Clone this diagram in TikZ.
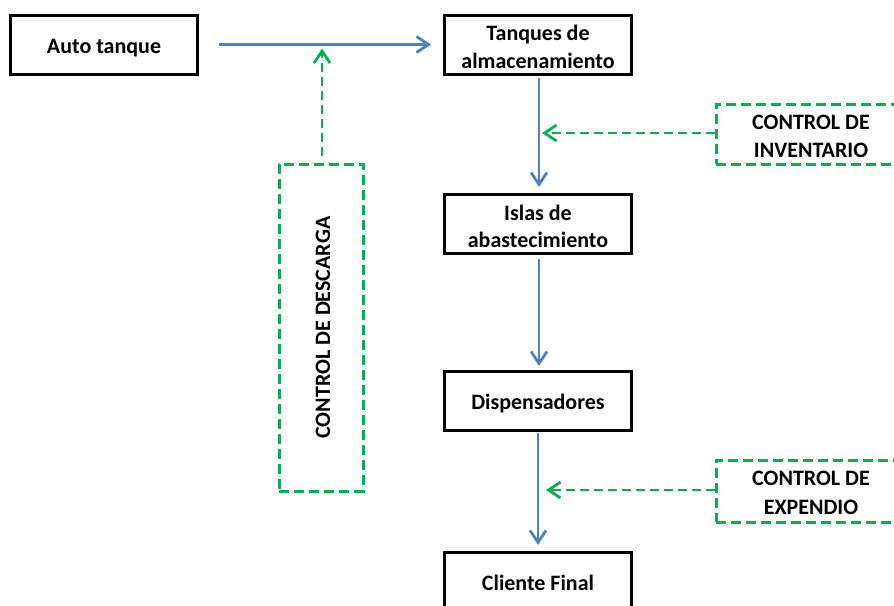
\documentclass[tikz,border=0pt]{standalone}
\usepackage{fontspec}
\setmainfont{Carlito}
\usetikzlibrary{arrows.meta,calc}
\definecolor{flowblue}{HTML}{4F81BD}
\definecolor{ctrlgreen}{HTML}{00B050}
\begin{document}
\begin{tikzpicture}[x=1pt,y=-1pt,
  lbl/.style={font=\fontsize{22}{27}\selectfont\bfseries, inner sep=0pt, anchor=base},
  stagebox/.style={draw=black, line width=3pt, minimum width=187pt, minimum height=59pt, inner sep=0pt},
  ctrlbox/.style={draw=ctrlgreen, line width=3pt, dash pattern=on 10pt off 5pt, inner sep=0pt},
  flow/.style={draw=flowblue, line width=2.8pt, -{Straight Barb[length=12pt,width=16pt,line width=2.8pt]}},
  ctrlflow/.style={draw=ctrlgreen, line width=2.8pt, dash pattern=on 9pt off 5pt,
    -{Straight Barb[length=12pt,width=16pt,line width=2.8pt]}}]
\useasboundingbox (0,0) rectangle (894,605);
\clip (0,0) rectangle (894,605);

% main process chain: boxes
\node[stagebox] (auto) at (104,44.5) {};
\node[stagebox] (tanq) at (538,44.5) {};
\node[stagebox] (islas) at (538,224) {};
\node[stagebox] (disp) at (538,401) {};
\node[stagebox] (cliente) at (538,582) {};

% main process chain: texts (placed on their baselines)
\node[lbl] (auto-t) at ($(auto.center)+(0,8.5)$) {Auto tanque};
\node[lbl] (tanq-t1) at ($(tanq.center)+(0,-4)$) {Tanques de};
\node[lbl] (tanq-t2) at ($(tanq.center)+(0,23.5)$) {almacenamiento};
\node[lbl] (islas-t1) at ($(islas.center)+(0,-4)$) {Islas de};
\node[lbl] (islas-t2) at ($(islas.center)+(0,23.5)$) {abastecimiento};
\node[lbl] (disp-t) at ($(disp.center)+(0,8)$) {Dispensadores};
\node[lbl] (cliente-t) at ($(cliente.center)+(0,8)$) {Cliente Final};

% control boxes
\node[ctrlbox, minimum width=84pt, minimum height=327pt] (desc) at (321,327.5) {};
\node[lbl, anchor=center, rotate=90] (desc-t) at (323,327.5) {CONTROL DE DESCARGA};
\node[ctrlbox, minimum width=190pt, minimum height=60pt] (inv) at (811,134) {};
\node[lbl] (inv-t1) at ($(inv.center)+(0,-4.7)$) {CONTROL DE};
\node[lbl] (inv-t2) at ($(inv.center)+(0,23.3)$) {INVENTARIO};
\node[ctrlbox, minimum width=190pt, minimum height=62pt] (exp) at (811,491) {};
\node[lbl] (exp-t1) at ($(exp.center)+(0,-5.3)$) {CONTROL DE};
\node[lbl] (exp-t2) at ($(exp.center)+(0,23)$) {EXPENDIO};

% points on the flow lines where the controls act
\coordinate (onflow1) at (322,44.5);
\coordinate (onflow2) at (539,133);
\coordinate (onflow3) at (538,490);

% flow arrows
\draw[flow, shorten <=20pt, shorten >=12pt] (auto.east) -- (tanq.west);
\draw[flow, shorten <=2pt, shorten >=6pt] (tanq.south -| onflow2) -- (islas.north -| onflow2);
\draw[flow, shorten <=4pt, shorten >=4pt] (islas.south -| onflow2) -- (disp.north -| onflow2);
\draw[flow, shorten <=1pt, shorten >=6pt] (disp.south) -- (cliente.north);

% control arrows
\draw[ctrlflow, shorten <=7pt, shorten >=4pt] (desc.north -| onflow1) -- (onflow1);
\draw[ctrlflow, shorten >=3pt] (inv.west |- onflow2) -- (onflow2);
\draw[ctrlflow, shorten >=8pt] (exp.west |- onflow3) -- (onflow3);
\end{tikzpicture}
\end{document}
